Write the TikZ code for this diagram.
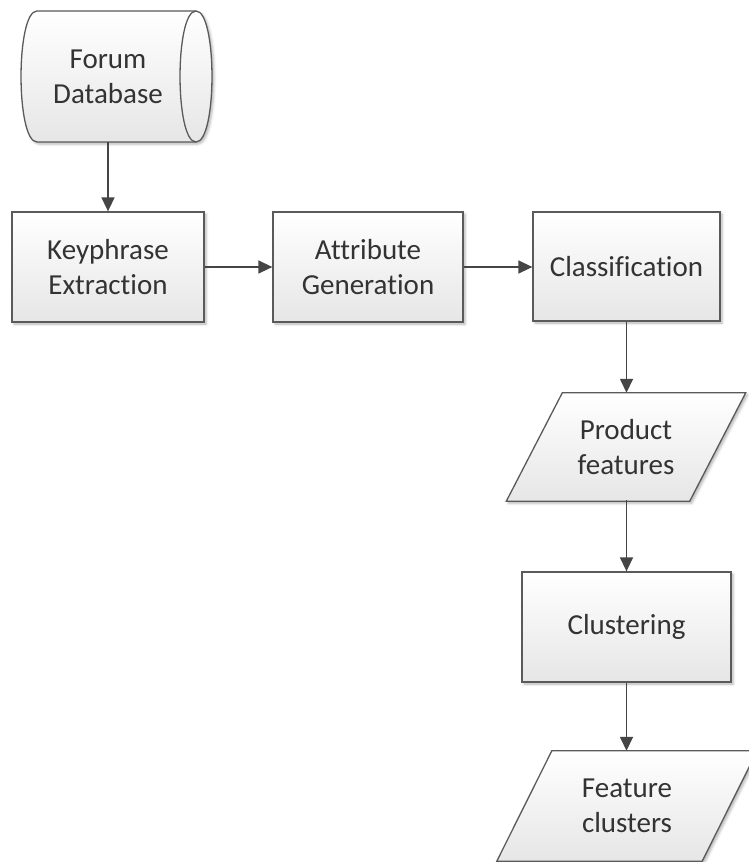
\documentclass[tikz,border=0pt]{standalone}
\usepackage{fontspec}
\setmainfont{Carlito}[Ligatures=NoCommon]
\usetikzlibrary{arrows.meta,shadows.blur,backgrounds,calc}
\definecolor{boxline}{HTML}{5A5A5A}
\definecolor{arrowc}{HTML}{454545}
\definecolor{txt}{HTML}{333333}
\definecolor{fillbot}{HTML}{E6E6E6}
\tikzset{
  softshadow/.style={blur shadow={shadow xshift=2pt, shadow yshift=-2pt,
      shadow blur radius=2.5pt, shadow opacity=30}},
  shapefill/.style={draw=boxline, line width=1.3pt, top color=white,
      bottom color=fillbot, softshadow},
  label/.style={text=txt, align=center, inner sep=0pt,
      font=\fontsize{29}{35}\selectfont},
  proc/.style={shapefill, label},
  slot/.style={label},
  flow/.style={draw=arrowc, line width=1.5pt,
      -{Triangle[length=14pt,width=13pt]}}
}
\begin{document}
\begin{tikzpicture}[x=1pt,y=-1pt]
\useasboundingbox (0,0) rectangle (748,862);

% process boxes
\node[proc, minimum width=192pt, minimum height=110pt] (kp) at (108,267) {Keyphrase\\Extraction};
\node[proc, minimum width=190pt, minimum height=110pt] (ag) at (368,267) {Attribute\\Generation};
\node[proc, minimum width=187pt, minimum height=109pt] (cl) at (626.5,266.5) {Classification};
\node[proc, minimum width=209pt, minimum height=110pt] (cu) at (626.5,627) {Clustering};

% text of the data store and the two data outputs
\node[slot, minimum width=150pt, minimum height=131pt] (db) at (108,76.5) {Forum\\Database};
\node[slot, minimum width=183pt, minimum height=108pt] (pf) at (626,447) {Product\\features};
\node[slot, minimum width=205pt, minimum height=110pt] (fc) at (627,806) {Feature\\clusters};

\begin{scope}[on background layer]
  % horizontal cylinder for the database
  \path[shapefill] (37,11) -- (196,11)
    .. controls (217.3,11) and (217.3,142) .. (196,142) -- (37,142)
    .. controls (15.7,142) and (15.7,11) .. (37,11) -- cycle;
  \draw[draw=boxline, line width=1.3pt] (196,11)
    .. controls (174.7,11) and (174.7,142) .. (196,142);
  % parallelograms for the outputs
  \path[shapefill] ([xshift=28pt]pf.north west) -- ([xshift=28pt]pf.north east)
    -- ([xshift=-28pt]pf.south east) -- ([xshift=-28pt]pf.south west) -- cycle;
  \path[shapefill] ([xshift=27.5pt]fc.north west) -- ([xshift=27.5pt]fc.north east)
    -- ([xshift=-27.5pt]fc.south east) -- ([xshift=-27.5pt]fc.south west) -- cycle;
\end{scope}

% connectors
\draw[flow] (db.south) -- (kp.north);
\draw[flow] (kp.east) -- (ag.west);
\draw[flow] (ag.east) -- (ag.east -| cl.west);
\draw[flow] (cl.south) -- (cl.south |- pf.north);
\draw[flow] (pf.south) -- (pf.south -| cu.north) -- (cu.north);
\draw[flow] (cu.south) -- (cu.south |- fc.north);
\end{tikzpicture}
\end{document}
